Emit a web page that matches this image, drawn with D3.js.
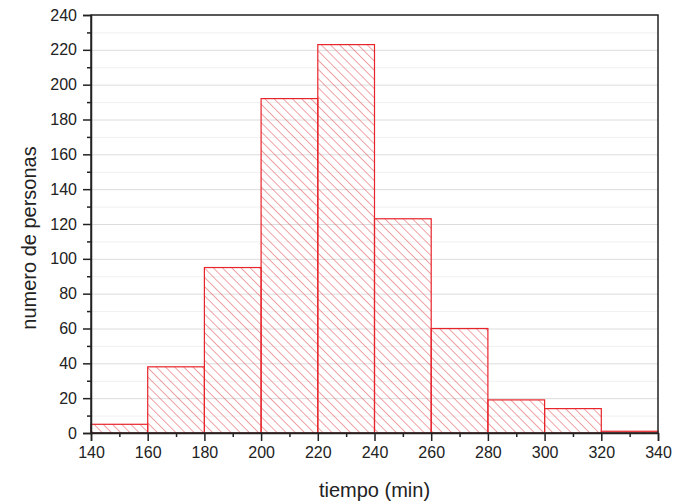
<!DOCTYPE html>
<html><head><meta charset="utf-8">
<script src="https://cdn.jsdelivr.net/npm/d3@7"></script>
<style>body{margin:0;background:#fff;} svg{display:block;}</style>
</head><body>
<script>
const binStarts = [140,160,180,200,220,240,260,280,300,320];
const binWidth = 20;
const counts = [5,38,95,192,223,123,60,19,14,1];
const xTicks = [140,160,180,200,220,240,260,280,300,320,340];
const yTicks = [0,20,40,60,80,100,120,140,160,180,200,220,240];
const xLabel = "tiempo (min)";
const yLabel = "numero de personas";

const W=686,H=501;
const m={l:91,r:28,t:15,b:68};
const FONT="Liberation Sans, Arial, sans-serif";
const svg=d3.select("body").append("svg").attr("width",W).attr("height",H);
const x=d3.scaleLinear().domain([140,340]).range([m.l,W-m.r]);
const y=d3.scaleLinear().domain([0,240]).range([H-m.b,m.t]);

const defs=svg.append("defs");
const pat=defs.append("pattern").attr("id","hatch").attr("patternUnits","userSpaceOnUse")
  .attr("width",6.5).attr("height",6.5).attr("patternTransform","rotate(-45)");
pat.append("line").attr("x1",0).attr("y1",0).attr("x2",0).attr("y2",6.5)
  .attr("stroke","#e0474c").attr("stroke-width",1);

// grid
const minor=d3.range(10,240,20);
svg.append("g").selectAll("line").data(minor).join("line")
  .attr("x1",m.l).attr("x2",W-m.r).attr("y1",d=>y(d)+0.5).attr("y2",d=>y(d)+0.5)
  .attr("stroke","#f0f0f0").attr("stroke-width",1);
svg.append("g").selectAll("line").data(yTicks.slice(1,-1)).join("line")
  .attr("x1",m.l).attr("x2",W-m.r).attr("y1",d=>y(d)+0.5).attr("y2",d=>y(d)+0.5)
  .attr("stroke","#dcdcdc").attr("stroke-width",1);

// bars
svg.append("g").selectAll("rect").data(binStarts).join("rect")
  .attr("x",(d)=>x(d)).attr("width",x(binStarts[0]+binWidth)-x(binStarts[0]))
  .attr("y",(d,i)=>y(counts[i])).attr("height",(d,i)=>y(0)-y(counts[i]))
  .attr("fill","url(#hatch)").attr("stroke","#e8242b").attr("stroke-width",1.2);

// frame
svg.append("rect").attr("x",m.l).attr("y",m.t).attr("width",W-m.r-m.l).attr("height",H-m.b-m.t)
  .attr("fill","none").attr("stroke","#222").attr("stroke-width",1.5);

// axes
svg.append("g").attr("transform",`translate(0,${H-m.b})`)
  .call(d3.axisBottom(x).tickValues(xTicks).tickSize(8).tickPadding(6));
svg.append("g").attr("transform",`translate(0,${H-m.b})`)
  .call(d3.axisBottom(x).tickValues(d3.range(150,340,20)).tickSize(4).tickFormat(""))
  .call(g=>g.select(".domain").remove());
svg.append("g").attr("transform",`translate(${m.l},0)`)
  .call(d3.axisLeft(y).tickValues(yTicks).tickSize(8).tickPadding(6));
svg.append("g").attr("transform",`translate(${m.l},0)`)
  .call(d3.axisLeft(y).tickValues(minor).tickSize(4).tickFormat(""))
  .call(g=>g.select(".domain").remove());
svg.selectAll(".tick line").attr("stroke","#222").attr("stroke-width",1.5);
svg.selectAll(".domain").attr("stroke","#222").attr("stroke-width",1.5);
svg.selectAll(".tick text").attr("font-family",FONT)
  .attr("font-size",16).attr("fill","#222");

svg.append("text").attr("x",(m.l+W-m.r)/2).attr("y",497).attr("text-anchor","middle")
  .attr("font-family",FONT).attr("font-size",20).attr("fill","#222").text(xLabel);
svg.append("text").attr("transform",`translate(36,238) rotate(-90)`).attr("text-anchor","middle")
  .attr("font-family",FONT).attr("font-size",20).attr("fill","#222").text(yLabel);
</script>
</body></html>
